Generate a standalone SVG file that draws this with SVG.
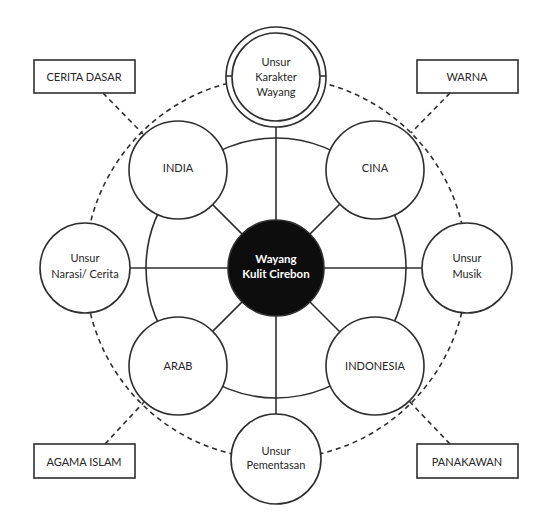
<svg xmlns="http://www.w3.org/2000/svg" width="549" height="523" viewBox="0 0 549 523">
<style>
.s{fill:none;stroke:#2e2e2e;stroke-width:1.6}
.d{fill:none;stroke:#2e2e2e;stroke-width:1.6;stroke-dasharray:5 4}
.c{fill:#fff;stroke:#2e2e2e;stroke-width:1.6}
.b{fill:#fff;stroke:#2e2e2e;stroke-width:1.6}
.t{font-family:Lato,"Liberation Sans",sans-serif;font-size:11px;fill:#262626;text-anchor:middle}
.w{font-family:Lato,"Liberation Sans",sans-serif;font-size:11.5px;font-weight:bold;fill:#fff;text-anchor:middle}
</style>
<rect width="549" height="523" fill="#fff"/>
<g id="connectors">
<circle class="d" cx="276" cy="268" r="191"/>
<circle class="s" cx="276" cy="268" r="130"/>
<line class="s" x1="276" y1="268" x2="276" y2="127"/>
<line class="s" x1="276" y1="268" x2="276" y2="414"/>
<line class="s" x1="276" y1="268" x2="130" y2="268"/>
<line class="s" x1="276" y1="268" x2="422" y2="268"/>
<line class="s" x1="276" y1="268" x2="178" y2="170"/>
<line class="s" x1="276" y1="268" x2="374" y2="170"/>
<line class="s" x1="276" y1="268" x2="178" y2="366"/>
<line class="s" x1="276" y1="268" x2="374" y2="366"/>
<line class="d" x1="103" y1="93" x2="143" y2="134"/>
<line class="d" x1="450" y1="93" x2="411" y2="133"/>
<line class="d" x1="105" y1="444" x2="144" y2="402"/>
<line class="d" x1="450" y1="444" x2="409" y2="401"/>
</g>
<g id="karakter">
<circle class="c" cx="276" cy="77" r="50"/>
<circle class="c" cx="276" cy="77" r="44"/>
<line class="s" x1="226" y1="76" x2="232" y2="76"/>
<line class="s" x1="320" y1="76" x2="326" y2="76"/>
<text class="t" x="276" y="66">Unsur</text>
<text class="t" x="276" y="81">Karakter</text>
<text class="t" x="276" y="96">Wayang</text>
</g>
<g id="india"><circle class="c" cx="178" cy="170" r="49"/><text class="t" x="178" y="172">INDIA</text></g>
<g id="cina"><circle class="c" cx="375" cy="170" r="49"/><text class="t" x="375" y="172">CINA</text></g>
<g id="arab"><circle class="c" cx="178" cy="366" r="49"/><text class="t" x="178" y="370">ARAB</text></g>
<g id="indonesia"><circle class="c" cx="375" cy="366" r="49"/><text class="t" x="375" y="370">INDONESIA</text></g>
<g id="narasi"><circle class="c" cx="85" cy="268" r="45"/><text class="t" x="85" y="262">Unsur</text><text class="t" x="85" y="278">Narasi/ Cerita</text></g>
<g id="musik"><circle class="c" cx="467" cy="268" r="45"/><text class="t" x="467" y="262">Unsur</text><text class="t" x="467" y="278">Musik</text></g>
<g id="pementasan"><circle class="c" cx="276" cy="459" r="45"/><text class="t" x="276" y="455">Unsur</text><text class="t" x="276" y="469">Pementasan</text></g>
<g id="center"><circle cx="276" cy="268" r="48" fill="#0d0d0d" stroke="#2e2e2e" stroke-width="1.6"/><text class="w" x="276" y="263">Wayang</text><text class="w" x="276" y="278">Kulit Cirebon</text></g>
<g id="cerita-dasar"><rect class="b" x="34" y="60" width="101" height="33"/><text class="t" x="84" y="81">CERITA DASAR</text></g>
<g id="warna"><rect class="b" x="417" y="60" width="101" height="33"/><text class="t" x="467" y="81">WARNA</text></g>
<g id="agama-islam"><rect class="b" x="34" y="444" width="101" height="34"/><text class="t" x="84" y="466">AGAMA ISLAM</text></g>
<g id="panakawan"><rect class="b" x="417" y="444" width="101" height="34"/><text class="t" x="467" y="466">PANAKAWAN</text></g>
</svg>
